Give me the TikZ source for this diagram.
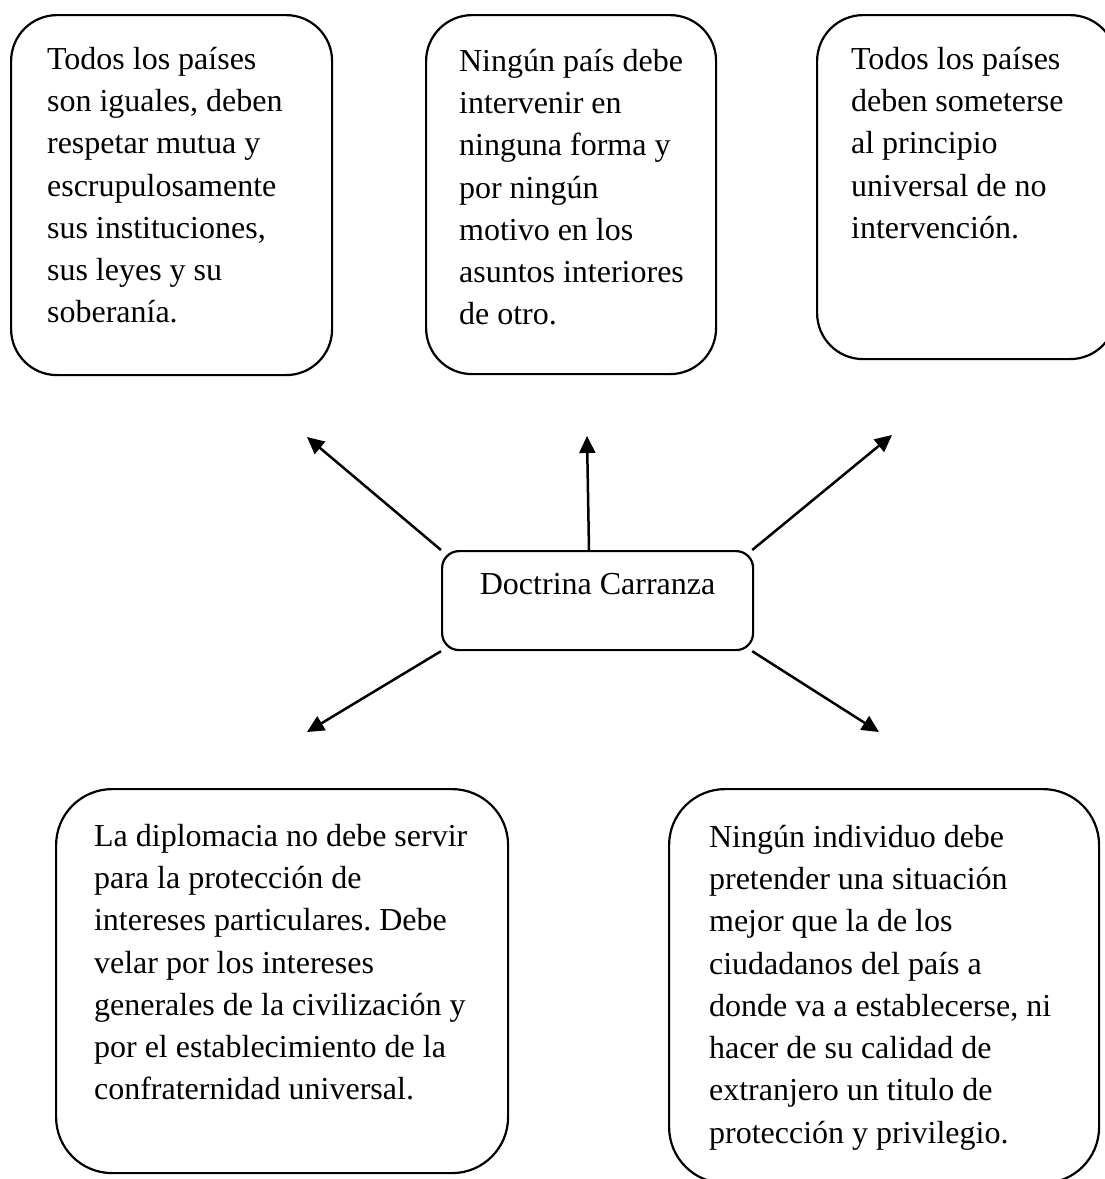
\documentclass[tikz,border=0pt]{standalone}
\usepackage{fontspec}
\setmainfont{Liberation Serif}
\usetikzlibrary{arrows.meta,calc}
\frenchspacing
\newcommand\bxt[3]{\hbox to #1{\hspace*{#2}\begin{tabular}[t]{@{}l@{}}#3\end{tabular}\hss}}
\tikzset{
  card/.style={draw, line width=2.2pt, inner sep=0pt, anchor=north west,
    font=\fontsize{32}{42.3}\selectfont\frenchspacing},
  link/.style={line width=2.5pt, -{Triangle[length=17pt,width=16pt]}}
}
\begin{document}
\begin{tikzpicture}[x=1pt,y=-1pt]
\useasboundingbox (0,0) rectangle (1105,1179);
\clip (0,0) rectangle (1105,1179);

\node[card, rounded corners=46pt, text height=54pt, text depth=306pt] (b1) at (10,14)
  {\bxt{321pt}{36pt}{Todos los países\\son iguales, deben\\respetar mutua y\\escrupulosamente\\sus instituciones,\\sus leyes y su\\soberanía.}};

\node[card, rounded corners=46pt, text height=56pt, text depth=303pt] (b2) at (425,14)
  {\bxt{290pt}{33pt}{Ningún país debe\\intervenir en\\ninguna forma y\\por ningún\\motivo en los\\asuntos interiores\\de otro.}};

\node[card, rounded corners=46pt, text height=54pt, text depth=290pt] (b3) at (816,14)
  {\bxt{299pt}{34pt}{Todos los países\\deben someterse\\al principio\\universal de no\\intervención.}};

\node[card, rounded corners=17pt, text height=43pt, text depth=56pt, minimum width=311pt] (c) at (441,550)
  {Doctrina Carranza};

\node[card, rounded corners=56pt, text height=57pt, text depth=327pt] (b4) at (55,788)
  {\bxt{452pt}{38pt}{La diplomacia no debe servir\\para la protección de\\intereses particulares. Debe\\velar por los intereses\\generales de la civilización y\\por el establecimiento de la\\confraternidad universal.}};

\node[card, rounded corners=56pt, text height=58pt, text depth=336pt] (b5) at (668,788)
  {\bxt{430pt}{40pt}{Ningún individuo debe\\pretender una situación\\mejor que la de los\\ciudadanos del país a\\donde va a establecerse, ni\\hacer de su calidad de\\extranjero un titulo de\\protección y privilegio.}};

\coordinate (tUL) at (307,437);
\coordinate (tU) at (587,436);
\coordinate (tUR) at (892,435);
\coordinate (tDL) at (307,732);
\coordinate (tDR) at (879,732);
\coordinate (cTop) at ($(c.north west)+(148,0)$);

\draw[link] (c.north west) -- (tUL);
\draw[link] (cTop) -- (tU);
\draw[link] ($(c.north east)+(-2,0)$) -- (tUR);
\draw[link] (c.south west) -- (tDL);
\draw[link] ($(c.south east)+(-2,0)$) -- (tDR);
\end{tikzpicture}
\end{document}
